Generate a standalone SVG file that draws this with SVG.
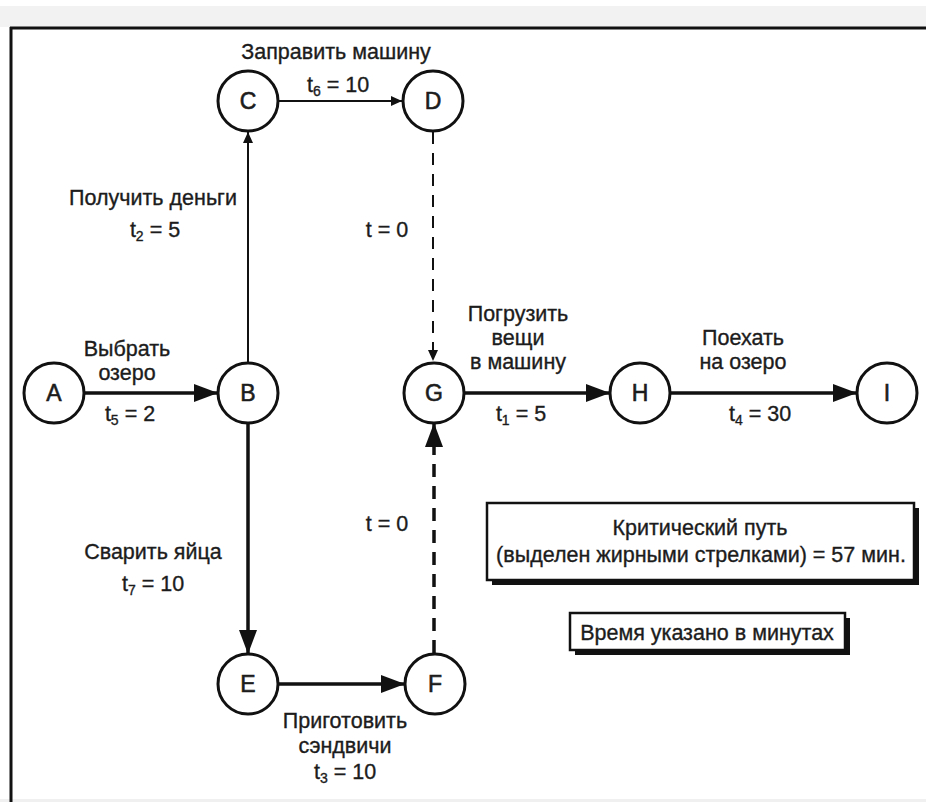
<svg xmlns="http://www.w3.org/2000/svg" width="926" height="802" viewBox="0 0 926 802">
<defs>
<style>
.t{font-family:"Liberation Sans","DejaVu Sans",sans-serif;font-size:21.5px;fill:#1c1c1c;stroke:#1c1c1c;stroke-width:0.35;text-anchor:middle;}
.n{font-family:"Liberation Sans","DejaVu Sans",sans-serif;font-size:23px;fill:#1c1c1c;stroke:#1c1c1c;stroke-width:0.6;text-anchor:middle;}
.c{fill:#fff;stroke:#111;stroke-width:3;}
.thin{stroke:#111;stroke-width:2;fill:none;}
.thick{stroke:#111;stroke-width:3.5;fill:none;}
.box{fill:#fff;stroke:#111;stroke-width:2.5;}
.sh{fill:#111;}
</style>
<marker id="big" markerUnits="userSpaceOnUse" markerWidth="24" markerHeight="18" refX="23" refY="9" orient="auto"><path d="M0,0 L24,9 L0,18 z" fill="#111"/></marker>
<marker id="small" markerUnits="userSpaceOnUse" markerWidth="11" markerHeight="10" refX="11" refY="5" orient="auto"><path d="M0,0 L11,5 L0,10 z" fill="#111"/></marker>
</defs>
<rect x="0" y="0" width="926" height="802" fill="#fff"/>
<rect x="0" y="6" width="926" height="21" fill="#f2f2f2"/>
<rect x="0" y="799" width="926" height="3" fill="#f0f0f0"/>
<g id="frame">
<line x1="10" y1="28" x2="926" y2="28" stroke="#111" stroke-width="3"/>
<line x1="11" y1="27" x2="11" y2="802" stroke="#111" stroke-width="3"/>
</g>
<g id="connectors">
<line class="thick" x1="84" y1="393" x2="217" y2="393" marker-end="url(#big)"/>
<line class="thin" x1="248" y1="362" x2="248" y2="132" marker-end="url(#small)"/>
<line class="thin" x1="279" y1="101" x2="402" y2="101" marker-end="url(#small)"/>
<line class="thin" x1="433" y1="132" x2="433" y2="361" stroke-dasharray="12 9" marker-end="url(#small)"/>
<line class="thick" x1="248" y1="424" x2="248" y2="653" marker-end="url(#big)"/>
<line class="thick" x1="279" y1="684" x2="404" y2="684" marker-end="url(#big)"/>
<line class="thick" x1="434" y1="653" x2="434" y2="424" stroke-dasharray="13 9" marker-end="url(#big)"/>
<line class="thick" x1="465" y1="393" x2="609" y2="393" marker-end="url(#big)"/>
<line class="thick" x1="671" y1="393" x2="856" y2="393" marker-end="url(#big)"/>
</g>
<g id="A"><circle class="c" cx="54" cy="393" r="30"/><text class="n" x="54" y="401">A</text></g>
<g id="B"><circle class="c" cx="248" cy="393" r="30"/><text class="n" x="248" y="401">B</text></g>
<g id="C"><circle class="c" cx="248" cy="101" r="30"/><text class="n" x="248" y="109">C</text></g>
<g id="D"><circle class="c" cx="433" cy="101" r="30"/><text class="n" x="433" y="109">D</text></g>
<g id="E"><circle class="c" cx="248" cy="684" r="30"/><text class="n" x="248" y="692">E</text></g>
<g id="F"><circle class="c" cx="435" cy="684" r="30"/><text class="n" x="435" y="692">F</text></g>
<g id="G"><circle class="c" cx="434" cy="393" r="30"/><text class="n" x="434" y="401">G</text></g>
<g id="H"><circle class="c" cx="640" cy="393" r="30"/><text class="n" x="640" y="401">H</text></g>
<g id="I"><circle class="c" cx="887" cy="393" r="30"/><text class="n" x="887" y="401">I</text></g>
<g id="labels">
<text class="t" x="336" y="59">Заправить машину</text>
<text class="t" x="338" y="92">t<tspan font-size="14" dy="4">6</tspan><tspan dy="-4"> = 10</tspan></text>
<text class="t" x="153" y="205">Получить деньги</text>
<text class="t" x="155" y="237">t<tspan font-size="14" dy="4">2</tspan><tspan dy="-4"> = 5</tspan></text>
<text class="t" x="387" y="237">t = 0</text>
<text class="t" x="127" y="356">Выбрать</text>
<text class="t" x="127" y="380">озеро</text>
<text class="t" x="130" y="421">t<tspan font-size="14" dy="4">5</tspan><tspan dy="-4"> = 2</tspan></text>
<text class="t" x="518" y="321">Погрузить</text>
<text class="t" x="518" y="345">вещи</text>
<text class="t" x="518" y="369">в машину</text>
<text class="t" x="521" y="421">t<tspan font-size="14" dy="4">1</tspan><tspan dy="-4"> = 5</tspan></text>
<text class="t" x="743" y="345">Поехать</text>
<text class="t" x="743" y="369">на озеро</text>
<text class="t" x="760" y="421">t<tspan font-size="14" dy="4">4</tspan><tspan dy="-4"> = 30</tspan></text>
<text class="t" x="387" y="531">t = 0</text>
<text class="t" x="153" y="559">Сварить яйца</text>
<text class="t" x="153" y="591">t<tspan font-size="14" dy="4">7</tspan><tspan dy="-4"> = 10</tspan></text>
<text class="t" x="345" y="728">Приготовить</text>
<text class="t" x="345" y="753">сэндвичи</text>
<text class="t" x="345" y="779">t<tspan font-size="14" dy="4">3</tspan><tspan dy="-4"> = 10</tspan></text>
</g>
<g id="box-critical">
<rect class="sh" x="492" y="508" width="427" height="77"/>
<rect class="box" x="487" y="503" width="427" height="77"/>
<text class="t" x="700" y="535">Критический путь</text>
<text class="t" x="701" y="562">(выделен жирными стрелками) = 57 мин.</text>
</g>
<g id="box-time">
<rect class="sh" x="575" y="618" width="275" height="37"/>
<rect class="box" x="570" y="613" width="275" height="37"/>
<text class="t" x="707" y="640">Время указано в минутах</text>
</g>
</svg>
